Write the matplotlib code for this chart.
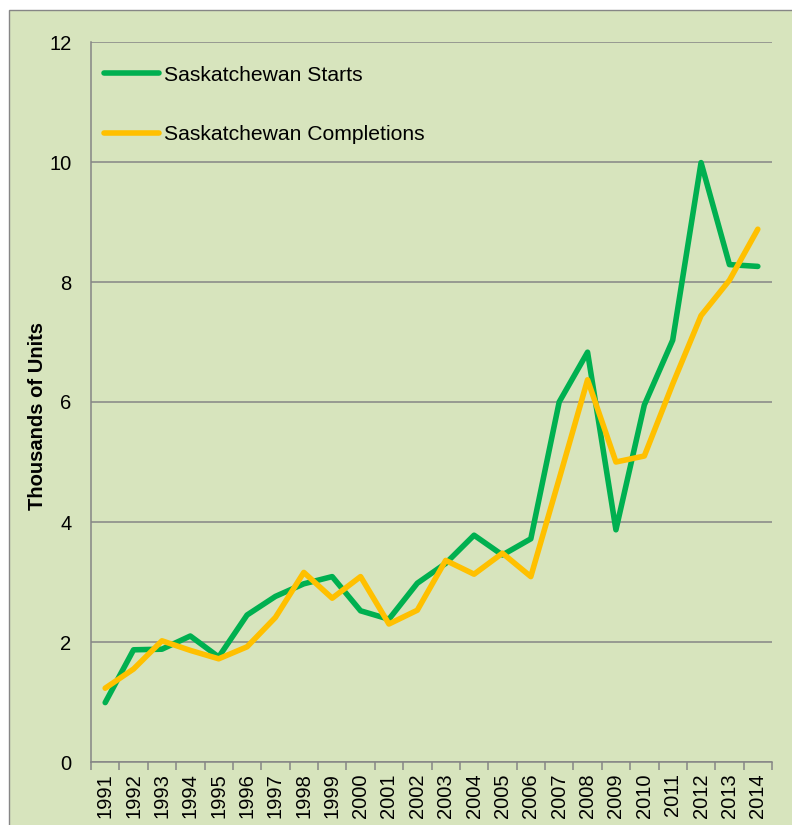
"""Saskatchewan housing starts vs completions, 1991-2014 (thousands of units)."""
import matplotlib

matplotlib.use("Agg")
import matplotlib.pyplot as plt
from matplotlib.patches import Rectangle

years = [str(y) for y in range(1991, 2015)]
starts = [0.99, 1.87, 1.88, 2.10, 1.75, 2.45, 2.76, 2.97, 3.09, 2.52, 2.38, 2.98,
          3.31, 3.78, 3.45, 3.72, 6.00, 6.83, 3.87, 5.95, 7.03, 9.99, 8.29, 8.26]
completions = [1.23, 1.55, 2.02, 1.86, 1.72, 1.92, 2.41, 3.16, 2.73, 3.09, 2.30, 2.53,
               3.36, 3.13, 3.48, 3.09, 4.72, 6.37, 5.00, 5.10, 6.30, 7.44, 8.03, 8.88]
y_ticks = [0, 2, 4, 6, 8, 10, 12]

BG = "#D7E4BD"
GRID = "#868686"
GREEN = "#00B050"
GOLD = "#FFC000"
FS = 14.5

plt.rcParams["font.family"] = ["Liberation Sans", "DejaVu Sans"]

fig = plt.figure(figsize=(7.92, 8.25), dpi=100, facecolor="white")
# chart-area box (border only shows on left/top, rest runs off the canvas)
fig.patches.append(Rectangle((9 / 792, -0.05), 1.1, 1 - 10 / 825 + 0.05,
                             transform=fig.transFigure, facecolor=BG,
                             edgecolor=GRID, lw=1.0, zorder=-1))

ax = fig.add_axes([91 / 792, 1 - 762 / 825, 681 / 792, 720 / 825])
ax.set_facecolor(BG)

x = list(range(len(years)))
ax.plot(x, starts, color=GREEN, lw=4.0, solid_joinstyle="round",
        solid_capstyle="round", label="Saskatchewan Starts", zorder=3)
ax.plot(x, completions, color=GOLD, lw=4.0, solid_joinstyle="round",
        solid_capstyle="round", label="Saskatchewan Completions", zorder=3)

ax.set_xlim(-0.5, len(years) - 0.5)
ax.set_ylim(0, 12)
ax.set_yticks(y_ticks)
ax.set_yticklabels([str(t) for t in y_ticks], fontsize=FS)
ax.tick_params(axis="y", length=0, pad=14)
ax.yaxis.grid(True, color=GRID, lw=1.1)
ax.set_axisbelow(True)

# labels at category centres, tick marks at category boundaries
ax.set_xticks(x)
ax.set_xticklabels(years, rotation=90, fontsize=FS)
ax.tick_params(axis="x", which="major", length=0, pad=8)
ax.set_xticks([i - 0.5 for i in range(len(years) + 1)], minor=True)
ax.tick_params(axis="x", which="minor", length=6, width=1.1, color=GRID)

for side in ("top", "right"):
    ax.spines[side].set_visible(False)
for side in ("left", "bottom"):
    ax.spines[side].set_color(GRID)
    ax.spines[side].set_linewidth(1.1)

ax.set_ylabel("Thousands of Units", fontsize=FS, fontweight="bold", va="center")
ax.yaxis.set_label_coords(-0.078, 0.48)

ax.legend(loc="upper left", bbox_to_anchor=(0.019, 0.967), frameon=False,
          fontsize=15.2, handlelength=2.6, handletextpad=0.25, labelspacing=1.91,
          borderpad=0, borderaxespad=0)

fig.savefig("out.png", dpi=100, facecolor="white")
